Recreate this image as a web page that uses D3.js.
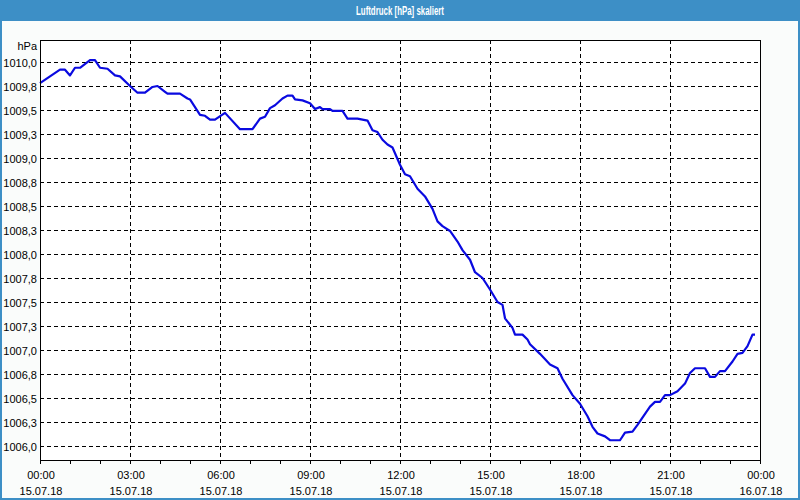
<!DOCTYPE html>
<html>
<head>
<meta charset="utf-8">
<script src="https://cdn.jsdelivr.net/npm/d3@7"></script>
<style>
  html, body { margin: 0; padding: 0; background: #fff; }
  svg { display: block; font-family: "Liberation Sans", Arial, sans-serif; }
</style>
</head>
<body>
<svg id="chart" width="800" height="500"></svg>
<script>
// Minuten seit 15.07.18 00:00
const minuten = [0, 20, 40, 50, 60, 70, 80, 100, 110, 120, 135, 150, 160, 180, 195, 210, 225, 235,
  250, 255, 280, 295, 300, 320, 330, 340, 350, 370, 400, 425, 440, 450, 460, 470, 485, 495, 505,
  510, 525, 540, 550, 560, 565, 580, 585, 605, 615, 635, 655, 665, 675, 685, 695, 705, 720, 730,
  740, 755, 770, 785, 795, 805, 820, 835, 845, 860, 870, 885, 900, 915, 925, 930, 945, 950, 965,
  975, 980, 1000, 1020, 1035, 1045, 1065, 1080, 1095, 1105, 1115, 1130, 1140, 1160, 1170, 1185,
  1195, 1220, 1230, 1240, 1250, 1260, 1275, 1290, 1300, 1310, 1330, 1340, 1350, 1360, 1370, 1385,
  1395, 1405, 1415, 1425, 1430]
// Luftdruck in hPa
const luftdruck = [1009.78, 1009.85, 1009.92, 1009.92, 1009.86, 1009.94, 1009.94, 1010.02, 1010.02,
  1009.94, 1009.93, 1009.86, 1009.85, 1009.75, 1009.68, 1009.68, 1009.74, 1009.75,
  1009.69, 1009.67, 1009.67, 1009.62, 1009.61, 1009.45, 1009.44, 1009.40, 1009.40, 1009.47,
  1009.30, 1009.30, 1009.41, 1009.43, 1009.52, 1009.55, 1009.62, 1009.65, 1009.65,
  1009.61, 1009.60, 1009.57, 1009.51, 1009.53, 1009.51, 1009.51, 1009.49, 1009.49, 1009.41,
  1009.41, 1009.39, 1009.29, 1009.27, 1009.19, 1009.14, 1009.11, 1008.93, 1008.83,
  1008.81, 1008.68, 1008.60, 1008.47, 1008.34, 1008.29, 1008.24, 1008.13, 1008.04,
  1007.94, 1007.81, 1007.75, 1007.63, 1007.50, 1007.47, 1007.33, 1007.23, 1007.16, 1007.16,
  1007.11, 1007.06, 1006.96, 1006.85, 1006.81, 1006.70, 1006.53, 1006.44, 1006.31, 1006.20,
  1006.13, 1006.10, 1006.06, 1006.06, 1006.14, 1006.15,
  1006.22, 1006.41, 1006.46, 1006.46, 1006.53, 1006.53, 1006.57, 1006.65, 1006.76, 1006.81,
  1006.81, 1006.72, 1006.72, 1006.78, 1006.78, 1006.88,
  1006.96, 1006.97, 1007.04, 1007.16, 1007.16]

// Achsen
const yTicks = [1006.0, 1006.25, 1006.5, 1006.75, 1007.0, 1007.25, 1007.5, 1007.75, 1008.0,
  1008.25, 1008.5, 1008.75, 1009.0, 1009.25, 1009.5, 1009.75, 1010.0]
const xTicks = [0, 180, 360, 540, 720, 900, 1080, 1260, 1440]
const xZeit = ['00:00', '03:00', '06:00', '09:00', '12:00', '15:00', '18:00', '21:00', '00:00']
const xDatum = ['15.07.18', '15.07.18', '15.07.18', '15.07.18', '15.07.18', '15.07.18', '15.07.18', '15.07.18', '16.07.18']
const titel = 'Luftdruck [hPa] skaliert'
const einheit = 'hPa'

const blau = '#3d8fc6'
const svg = d3.select('#chart')

// Hintergrund + Rahmen
svg.append('rect').attr('width', 800).attr('height', 500).attr('fill', '#fafcfb')
svg.append('rect').attr('x', 1).attr('y', 1).attr('width', 798).attr('height', 498)
  .attr('fill', 'none').attr('stroke', blau).attr('stroke-width', 2)
svg.append('rect').attr('width', 800).attr('height', 21).attr('fill', blau)
svg.append('text').attr('x', 400).attr('y', 14.5)
  .attr('text-anchor', 'middle').attr('fill', '#fff')
  .attr('font-size', 12).attr('font-weight', 'bold')
  .attr('textLength', 88).attr('lengthAdjust', 'spacingAndGlyphs')
  .text(titel)

const L = 40, R = 760, T = 40, B = 460

const x = d3.scaleLinear().domain([0, 1440]).range([L, R])
const y = d3.scaleLinear().domain([1006, 1010]).range([446, 62])

svg.append('rect').attr('x', L).attr('y', T).attr('width', R - L).attr('height', B - T).attr('fill', '#fff')

// Gitter
svg.append('g').selectAll('line').data(yTicks).join('line')
  .attr('x1', L).attr('x2', R)
  .attr('y1', d => Math.round(y(d)) + 0.5).attr('y2', d => Math.round(y(d)) + 0.5)
  .attr('stroke', '#000').attr('stroke-dasharray', '4,3')
svg.append('g').selectAll('line').data(xTicks.slice(1, -1)).join('line')
  .attr('x1', d => Math.round(x(d)) + 0.5).attr('x2', d => Math.round(x(d)) + 0.5)
  .attr('y1', T).attr('y2', B)
  .attr('stroke', '#000').attr('stroke-dasharray', '4,3')

// Stundenstriche
svg.append('g').selectAll('line').data(d3.range(0, 1441, 60)).join('line')
  .attr('x1', d => Math.round(x(d)) + 0.5).attr('x2', d => Math.round(x(d)) + 0.5)
  .attr('y1', B).attr('y2', B + 4)
  .attr('stroke', '#000')

// Linie
const punkte = minuten.map((m, i) => [m, luftdruck[i]])
svg.append('path').datum(punkte)
  .attr('d', d3.line().x(d => x(d[0])).y(d => y(d[1])))
  .attr('fill', 'none').attr('stroke', '#0a0ae0').attr('stroke-width', 2.2)
  .attr('stroke-linejoin', 'round')

// Plot-Rahmen
svg.append('rect').attr('x', L + 0.5).attr('y', T + 0.5).attr('width', R - L).attr('height', B - T)
  .attr('fill', 'none').attr('stroke', '#000')

// Beschriftung y
svg.append('g').selectAll('text').data(yTicks).join('text')
  .attr('x', 37).attr('y', d => y(d) + 5)
  .attr('text-anchor', 'end').attr('font-size', 11).attr('fill', '#000')
  .text(d => d.toFixed(1).replace('.', ','))
svg.append('text').attr('x', 37).attr('y', 50).attr('text-anchor', 'end')
  .attr('font-size', 11).text(einheit)

// Beschriftung x
const xl = svg.append('g').selectAll('g').data(xTicks).join('g')
xl.append('text').attr('x', d => x(d) + 1).attr('y', 479).attr('text-anchor', 'middle')
  .attr('font-size', 11).text((d, i) => xZeit[i])
xl.append('text').attr('x', d => x(d) + 1).attr('y', 495).attr('text-anchor', 'middle')
  .attr('font-size', 11).text((d, i) => xDatum[i])
</script>
</body>
</html>
